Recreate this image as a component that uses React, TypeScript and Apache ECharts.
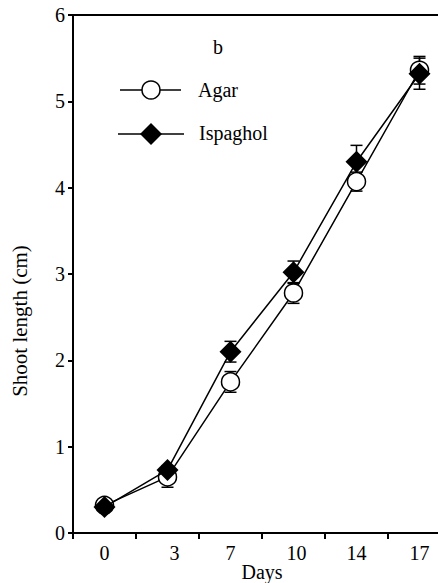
import React, { useEffect, useRef } from "react";
import * as echarts from "echarts";

const days = ["0", "3", "7", "10", "14", "17"];
const agar = [0.32, 0.65, 1.75, 2.78, 4.07, 5.36];
const agarErr = [0.03, 0.12, 0.12, 0.12, 0.11, 0.16];
const ispaghol = [0.3, 0.73, 2.1, 3.02, 4.3, 5.32];
const ispagholErr = [0.03, 0.05, 0.12, 0.13, 0.19, 0.18];
const yTicks = [0, 1, 2, 3, 4, 5, 6];

const FONT = "'Liberation Serif', 'Times New Roman', serif";

function errorSeries(name: string, vals: number[], errs: number[], z: number) {
  return {
    type: "custom",
    name,
    z,
    silent: true,
    data: vals.map((v, i) => [i, v - errs[i], v + errs[i]]),
    renderItem: (params: any, api: any) => {
      const x = api.value(0);
      const lo = api.coord([x, api.value(1)]);
      const hi = api.coord([x, api.value(2)]);
      const hw = 6;
      const style = { stroke: "#000", lineWidth: 1.5 };
      return {
        type: "group",
        children: [
          { type: "line", shape: { x1: lo[0], y1: lo[1], x2: hi[0], y2: hi[1] }, style },
          { type: "line", shape: { x1: lo[0] - hw, y1: lo[1], x2: lo[0] + hw, y2: lo[1] }, style },
          { type: "line", shape: { x1: hi[0] - hw, y1: hi[1], x2: hi[0] + hw, y2: hi[1] }, style },
        ],
      };
    },
  };
}

export default function App() {
  const ref = useRef<HTMLDivElement>(null);
  useEffect(() => {
    const chart = echarts.init(ref.current!, null, { renderer: "svg" });
    chart.setOption({
      animation: false,
      backgroundColor: "#fff",
      textStyle: { fontFamily: FONT, color: "#000" },
      grid: {
        left: 73,
        top: 15,
        height: 518,
        width: 378,
        containLabel: false,
        outerBoundsMode: "none",
        show: true,
        borderColor: "#000",
        borderWidth: 2,
        backgroundColor: "transparent",
      },
      xAxis: {
        type: "category",
        data: days,
        boundaryGap: true,
        name: "Days",
        nameLocation: "middle",
        nameGap: 29,
        nameMoveOverlap: false,
        nameTextStyle: { fontFamily: FONT, fontSize: 20, color: "#000" },
        axisLine: { lineStyle: { color: "#000", width: 2 } },
        axisTick: { show: true, interval: 0, length: 6, lineStyle: { color: "#000", width: 2 } },
        axisLabel: {
          interval: 0,
          hideOverlap: false,
          fontFamily: FONT,
          fontSize: 20,
          color: "#000",
          margin: 10,
          formatter: (v: string) => (v === "3" ? "{a|3}" : v === "10" ? "{b|10}" : v),
          rich: {
            a: { fontFamily: FONT, fontSize: 20, color: "#000", padding: [0, 0, 0, 14] },
            b: { fontFamily: FONT, fontSize: 20, color: "#000", padding: [0, 0, 0, 6] },
          },
        },
        splitLine: { show: false },
      },
      yAxis: {
        type: "value",
        min: 0,
        max: 6,
        interval: 1,
        axisLine: { show: true, lineStyle: { color: "#000", width: 2 } },
        axisTick: { show: true, length: 5, lineStyle: { color: "#000", width: 2 } },
        axisLabel: {
          fontFamily: FONT,
          fontSize: 20,
          color: "#000",
          margin: 8,
          formatter: (v: number) => (yTicks.includes(v) ? String(v) : ""),
        },
        splitLine: { show: false },
      },
      series: [
        errorSeries("agarErr", agar, agarErr, 2),
        errorSeries("ispErr", ispaghol, ispagholErr, 2),
        {
          type: "line",
          name: "Agar",
          data: agar,
          z: 3,
          symbol: "circle",
          symbolSize: 18,
          showAllSymbol: true,
          lineStyle: { color: "#000", width: 1.5 },
          itemStyle: { color: "#fff", borderColor: "#000", borderWidth: 1.5 },
        },
        {
          type: "line",
          name: "Ispaghol",
          data: ispaghol,
          z: 4,
          symbol: "diamond",
          symbolSize: 22,
          showAllSymbol: true,
          lineStyle: { color: "#000", width: 1.5 },
          itemStyle: { color: "#000", borderColor: "#000", borderWidth: 0 },
        },
      ],
      graphic: [
        {
          type: "text",
          x: 20,
          y: 321,
          rotation: Math.PI / 2,
          style: {
            text: "Shoot length (cm)",
            fontFamily: FONT,
            fontSize: 21,
            fill: "#000",
            align: "center",
            verticalAlign: "middle",
          },
        },
        {
          type: "text",
          x: 218,
          y: 47,
          style: { text: "b", fontFamily: FONT, fontSize: 20, fill: "#000", align: "center", verticalAlign: "middle" },
        },
        { type: "line", shape: { x1: 120, y1: 90, x2: 181, y2: 90 }, style: { stroke: "#000", lineWidth: 1.5 } },
        { type: "circle", shape: { cx: 151, cy: 90, r: 9 }, style: { fill: "#fff", stroke: "#000", lineWidth: 1.5 } },
        {
          type: "text",
          x: 198,
          y: 90,
          style: { text: "Agar", fontFamily: FONT, fontSize: 20, fill: "#000", align: "left", verticalAlign: "middle" },
        },
        { type: "line", shape: { x1: 118, y1: 134, x2: 184, y2: 134 }, style: { stroke: "#000", lineWidth: 1.5 } },
        {
          type: "polygon",
          shape: { points: [[151, 123], [162, 134], [151, 145], [140, 134]] },
          style: { fill: "#000" },
        },
        {
          type: "text",
          x: 199,
          y: 133,
          style: { text: "Ispaghol", fontFamily: FONT, fontSize: 20, fill: "#000", align: "left", verticalAlign: "middle" },
        },
      ],
    });
    return () => chart.dispose();
  }, []);
  return <div ref={ref} style={{ width: 438, height: 583, position: "absolute", left: 0, top: 0 }} />;
}
